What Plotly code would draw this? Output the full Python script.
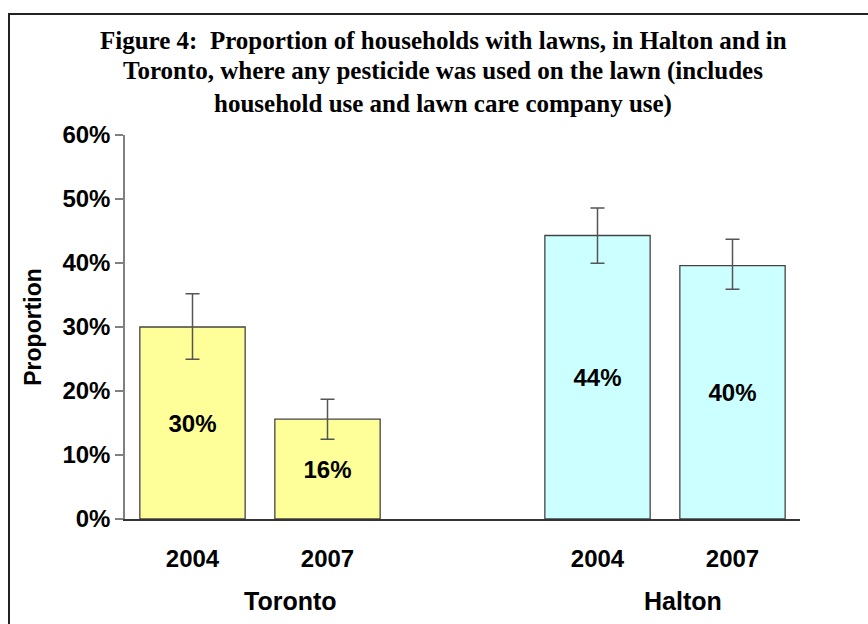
import plotly.graph_objects as go

# ---- data ----
cities = ["Toronto", "Toronto", "Halton", "Halton"]
years = ["2004", "2007", "2004", "2007"]
proportion = [30.0, 15.6, 44.3, 39.6]          # percent
err_plus = [5.2, 3.1, 4.3, 4.1]
err_minus = [5.05, 3.15, 4.35, 3.7]
bar_colors = ["#FFFF99", "#FFFF99", "#CCFFFF", "#CCFFFF"]
group_labels = ["Toronto", "Halton"]
title_lines = [
    "Figure 4:  Proportion of households with lawns, in Halton and in",
    "Toronto, where any pesticide was used on the lawn (includes",
    "household use and lawn care company use)",
]

# ---- layout geometry ----
W, H = 868, 624
L, R, T, B = 125, 68, 135, 105
pw, ph = W - L - R, H - T - B


def px_x(p):
    return (p - L) / pw


def px_y(p):
    return (H - B - p) / ph


keys = [f"{c}|{y}" for c, y in zip(cities, years)]
cat_order = keys[:2] + ["gap"] + keys[2:]

fig = go.Figure()
fig.add_trace(go.Bar(
    x=keys,
    y=proportion,
    width=0.78,
    marker=dict(color=bar_colors, line=dict(color="#444444", width=1.3)),
    error_y=dict(type="data", symmetric=False, array=err_plus, arrayminus=err_minus,
                 color="#555555", thickness=1.5, width=7),
    texttemplate="%{y:.0f}%",
    textposition="inside",
    insidetextanchor="middle",
    textangle=0,
    textfont=dict(family="Liberation Sans, Arial", size=24, color="black", weight="bold"),
    showlegend=False,
    hoverinfo="skip",
))

fig.update_layout(
    width=W, height=H,
    margin=dict(l=L, r=R, t=T, b=B),
    paper_bgcolor="white",
    plot_bgcolor="white",
    font=dict(family="Liberation Sans, Arial", color="black"),
    xaxis=dict(
        type="category",
        categoryorder="array",
        categoryarray=cat_order,
        range=[-0.5, 4.5],
        tickvals=keys,
        ticktext=years,
        tickfont=dict(size=24, weight="bold", color="black"),
        showline=True, linecolor="#333333", linewidth=1.5,
        ticks="", showgrid=False, zeroline=False,
        ticklabelstandoff=17,
    ),
    yaxis=dict(
        range=[0, 60], dtick=10, ticksuffix="%",
        tickfont=dict(size=24, weight="bold", color="black"),
        showline=True, linecolor="#808080", linewidth=1.5,
        ticks="outside", ticklen=8, tickcolor="#808080", tickwidth=1.5,
        showgrid=False, zeroline=False,
        title=dict(text="Proportion", font=dict(size=23, weight="bold", color="black"), standoff=14),
    ),
)

# group labels
for name, px in zip(group_labels, [290, 683]):
    fig.add_annotation(x=px_x(px), y=px_y(601), xref="paper", yref="paper",
                       text=name, showarrow=False, xanchor="center", yanchor="middle",
                       font=dict(size=25, weight="bold", color="black"))

# title
for line, py in zip(title_lines, [40, 71, 104]):
    fig.add_annotation(x=px_x(443), y=px_y(py), xref="paper", yref="paper",
                       text=line, showarrow=False, xanchor="center", yanchor="middle",
                       font=dict(family="Liberation Serif, Times New Roman", size=25,
                                 weight="bold", color="black"))

# outer frame
fig.add_shape(type="rect", xref="paper", yref="paper",
              x0=px_x(9), y0=px_y(14), x1=px_x(872), y1=px_y(630),
              line=dict(color="#222222", width=2), fillcolor="rgba(0,0,0,0)", layer="above")

fig.write_html("out.html", config={"displayModeBar": False},
               post_script="document.body.style.margin='0';")
